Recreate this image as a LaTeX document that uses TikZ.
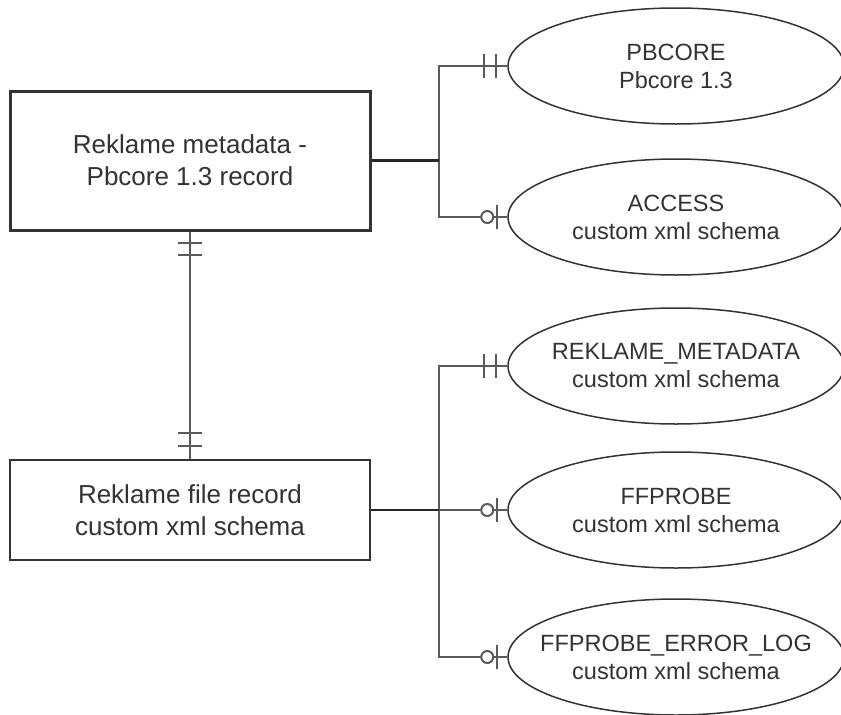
\documentclass[tikz,border=0pt]{standalone}
\usepackage{fontspec}
\setmainfont{Liberation Sans}
\usetikzlibrary{shapes.geometric}

\definecolor{linegray}{HTML}{5A5A5A}
\definecolor{boxgray}{HTML}{333333}

\begin{document}
\begin{tikzpicture}[x=1pt,y=-1pt,
    entity/.style={draw=boxgray,rectangle,align=center,text=boxgray,
      minimum width=360pt,font=\fontsize{26}{32}\selectfont},
    attr/.style={draw=boxgray,ellipse,line width=1.5pt,minimum width=336pt,
      minimum height=116pt,inner xsep=-20pt,inner ysep=0pt,align=center,
      text=boxgray,font=\fontsize{23.5}{28}\selectfont},
    link/.style={draw=linegray,line width=2pt},
    trunk/.style={draw=black!85,line width=2.6pt}]
  \useasboundingbox (0,0) rectangle (841,715);

  % marks: one and only one, zero or one
  \def\mandatory#1{\draw[link] ([xshift=-11pt]#1) ++(0,-12) -- ++(0,24)
    ([xshift=-23pt]#1) ++(0,-12) -- ++(0,24);}
  \def\optional#1{\draw[link] ([xshift=-10pt]#1) ++(0,-12) -- ++(0,24);
    \draw[link,fill=white] ([xshift=-20pt]#1) circle (6pt);}

  % entities
  \node[entity,minimum height=139pt,line width=3pt] (meta) at (190,160.5)
    {Reklame metadata -\\Pbcore 1.3 record};
  \node[entity,minimum height=100pt,line width=2pt] (file) at (190,510)
    {Reklame file record\\custom xml schema};

  % schemas
  \node[attr] (pbcore)  at (676,66)  {PBCORE\\Pbcore 1.3};
  \node[attr] (access)  at (676,217) {ACCESS\\custom xml schema};
  \node[attr] (reklame) at (676,366) {REKLAME\_METADATA\\custom xml schema};
  \node[attr] (ffprobe) at (676,510) {FFPROBE\\custom xml schema};
  \node[attr] (errlog)  at (676,657) {FFPROBE\_ERROR\_LOG\\custom xml schema};

  \coordinate (jtop) at (439,160.5);
  \coordinate (jbot) at (439,510);

  % connectors
  \draw[link] (meta.south) -- (file.north);
  \draw[link] ([yshift=-11pt]meta.south) ++(-12,0) -- ++(24,0)
    ([yshift=-23pt]meta.south) ++(-12,0) -- ++(24,0);
  \draw[link] ([yshift=13pt]file.north) ++(-12,0) -- ++(24,0)
    ([yshift=26pt]file.north) ++(-12,0) -- ++(24,0);

  \draw[link] (pbcore.west) -| (jtop) |- (access.west);
  \draw[trunk] (meta.east) -- (jtop);
  \mandatory{pbcore.west}
  \optional{access.west}

  \draw[link] (reklame.west) -| (jbot) |- (errlog.west);
  \draw[link] (jbot) -- (ffprobe.west);
  \draw[trunk] (file.east) -- (jbot);
  \mandatory{reklame.west}
  \optional{ffprobe.west}
  \optional{errlog.west}
\end{tikzpicture}
\end{document}
